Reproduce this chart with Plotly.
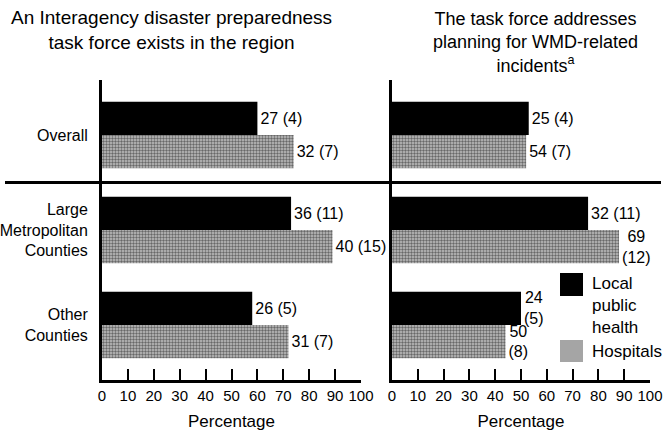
import plotly.graph_objects as go

# ---- data ----
categories = ["Overall", "Large<br>Metropolitan<br>Counties", "Other<br>Counties"]
series_names = ["Local public health", "Hospitals"]

# Left panel: an interagency disaster preparedness task force exists (bar lengths, %)
exists_lph = [60, 73, 58]
exists_hosp = [74, 89, 72]
exists_lph_labels = ["27 (4)", "36 (11)", "26 (5)"]
exists_hosp_labels = ["32 (7)", "40 (15)", "31 (7)"]

# Right panel: task force addresses planning for WMD-related incidents (bar lengths, %)
wmd_lph = [53, 76, 50]
wmd_hosp = [52, 88, 44]
wmd_lph_labels = ["25 (4)", "32 (11)", "24<br>(5)"]
wmd_hosp_labels = ["54 (7)", "69<br>(12)", "50<br>(8)"]

x_ticks = [0, 10, 20, 30, 40, 50, 60, 70, 80, 90, 100]

left_title = "An Interagency disaster preparedness<br>task force exists in the region"
right_title = "The task force addresses<br>planning for WMD-related<br>incidents<sup>a</sup>"
x_title = "Percentage"

# ---- style ----
W, H = 666, 434
FONT = "Liberation Sans, Arial, Helvetica, sans-serif"
LPH_COLOR = "#000000"
HOSP_BG = "#c2c2c2"
HOSP_FG = "#686868"

def px_x(p):
    return p / W

def px_y(p):
    return 1 - p / H

fig = go.Figure()

def add_bars(xvals, labels, name, color, xa, ya, hosp):
    marker = dict(color=color, line=dict(width=0))
    if hosp:
        marker = dict(color=HOSP_BG, line=dict(width=0),
                      pattern=dict(shape=".", bgcolor=HOSP_BG, fgcolor=HOSP_FG,
                                   size=3, solidity=0.5))
    fig.add_trace(go.Bar(
        y=categories, x=xvals, orientation="h", name=name,
        marker=marker, text=labels, textposition="outside",
        textfont=dict(family=FONT, size=16, color="black"),
        constraintext="none", cliponaxis=False,
        xaxis=xa, yaxis=ya, showlegend=False,
    ))

add_bars(exists_lph, exists_lph_labels, series_names[0], LPH_COLOR, "x", "y", False)
add_bars(exists_hosp, exists_hosp_labels, series_names[1], HOSP_BG, "x", "y", True)
add_bars(wmd_lph, wmd_lph_labels, series_names[0], LPH_COLOR, "x2", "y2", False)
add_bars(wmd_hosp, wmd_hosp_labels, series_names[1], HOSP_BG, "x2", "y2", True)

ydom = [px_y(380), px_y(80)]
xcommon = dict(range=[0, 100], tickvals=x_ticks, ticks="inside", ticklen=11,
               tickwidth=1.5, tickcolor="black", showline=True, linewidth=3,
               linecolor="black", showgrid=False, zeroline=False, automargin=False,
               tickfont=dict(family=FONT, size=15, color="black"),
               title=dict(text=x_title, font=dict(family=FONT, size=17, color="black"),
                          standoff=13))
ycommon = dict(range=[2.58, -0.58], showline=True, linewidth=3, linecolor="black",
               showgrid=False, zeroline=False, ticks="", domain=ydom, automargin=False)

fig.update_layout(
    template="none",
    width=W, height=H,
    margin=dict(l=0, r=0, t=0, b=0, autoexpand=False),
    paper_bgcolor="white", plot_bgcolor="white",
    barmode="group", bargap=0.3, bargroupgap=0,
    font=dict(family=FONT, color="black"),
    showlegend=False,
    xaxis=dict(domain=[px_x(102), px_x(361)], anchor="y", **xcommon),
    xaxis2=dict(domain=[px_x(392), px_x(650)], anchor="y2", **xcommon),
    yaxis=dict(anchor="x", showticklabels=True, ticklabelstandoff=8,
               tickfont=dict(family=FONT, size=16, color="black"), **ycommon),
    yaxis2=dict(anchor="x2", showticklabels=False, **ycommon),
)

# separator line between Overall and county groups
fig.add_shape(type="line", xref="paper", yref="y", x0=px_x(5), x1=px_x(661),
              y0=0.5, y1=0.5, line=dict(color="black", width=3))

# panel titles
fig.add_annotation(text=left_title, xref="paper", yref="paper", x=px_x(171), y=px_y(5),
                   xanchor="center", yanchor="top", showarrow=False,
                   font=dict(family=FONT, size=19, color="black"))
fig.add_annotation(text=right_title, xref="paper", yref="paper", x=px_x(535), y=px_y(7),
                   xanchor="center", yanchor="top", showarrow=False,
                   font=dict(family=FONT, size=18, color="black"))

# legend (drawn as swatches + text inside right panel)
fig.add_shape(type="rect", xref="paper", yref="paper",
              x0=px_x(560), x1=px_x(583), y0=px_y(296), y1=px_y(273),
              fillcolor=LPH_COLOR, line=dict(width=0))
fig.add_shape(type="rect", xref="paper", yref="paper",
              x0=px_x(560), x1=px_x(583), y0=px_y(362), y1=px_y(340),
              fillcolor="#a5a5a5", line=dict(width=0))
fig.add_annotation(text="Local<br>public<br>health", xref="paper", yref="paper",
                   x=px_x(590), y=px_y(305), xanchor="left", yanchor="middle",
                   align="left", showarrow=False,
                   font=dict(family=FONT, size=17, color="black"))
fig.add_annotation(text="Hospitals", xref="paper", yref="paper",
                   x=px_x(590), y=px_y(351), xanchor="left", yanchor="middle",
                   align="left", showarrow=False,
                   font=dict(family=FONT, size=17, color="black"))

fig.write_html("out.html",
               config={"displayModeBar": False},
               post_script="document.body.style.margin='0';document.body.style.padding='0';")
